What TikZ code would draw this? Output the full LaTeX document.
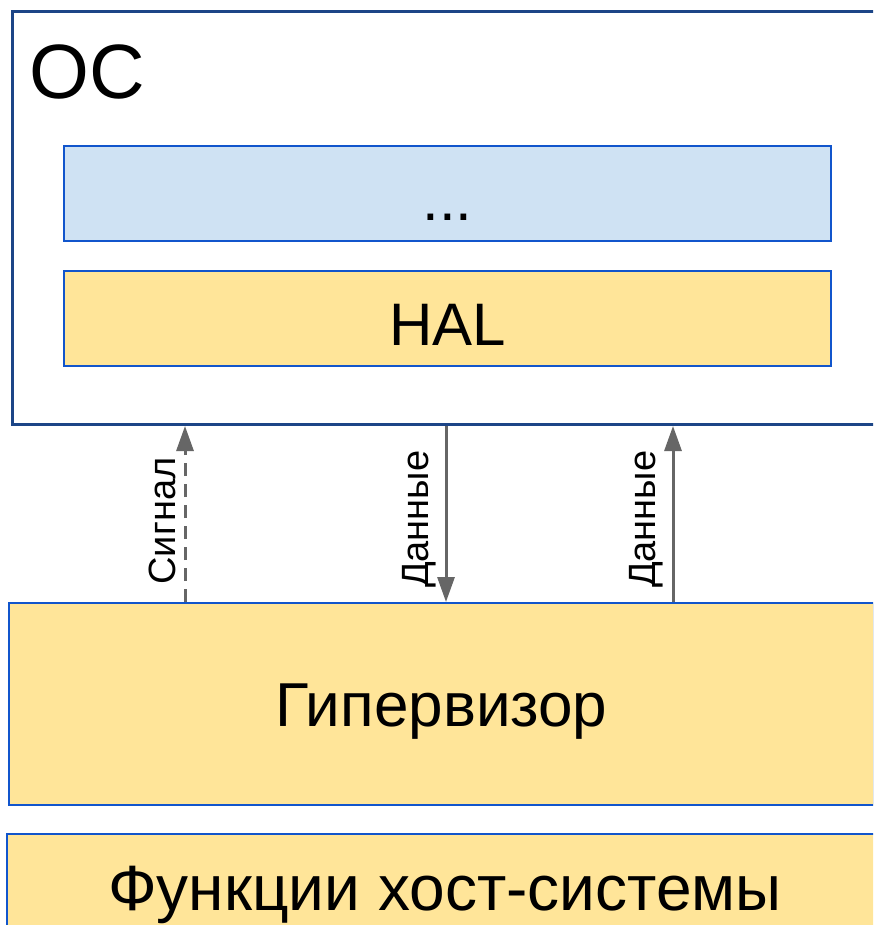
\documentclass[tikz,border=0pt]{standalone}
\usepackage{fontspec}
\setmainfont{Liberation Sans}
\usepackage{tikz}
\usepackage{xcolor}
\usetikzlibrary{arrows.meta,positioning,calc}
\definecolor{osBlue}{RGB}{28,69,135}
\definecolor{layerBlue}{RGB}{17,85,204}
\definecolor{stackBlue}{RGB}{207,226,243}
\definecolor{halYellow}{RGB}{255,229,153}
\definecolor{wireGray}{RGB}{102,102,102}

\begin{document}
\begin{tikzpicture}[x=1pt, y=-1pt,
    layer/.style={draw=layerBlue, line width=2pt, inner sep=0pt},
    wire/.style={draw=wireGray, line width=3pt, -{Triangle[length=25pt,width=17pt]}},
    wirelabel/.style={rotate=90, anchor=south, inner sep=8pt, font=\fontsize{38}{45}\selectfont}]
    \path[use as bounding box, fill=white] (0,0) rectangle (873,925);
    \clip (0,0) rectangle (873,925);
    % guest OS with its layers
    \node[draw=osBlue, line width=3pt, inner sep=0pt, minimum width=880pt, minimum height=413pt, anchor=north west] (os) at (11,10) {};
    \node[anchor=base west, inner sep=0pt, font=\fontsize{77}{90}\selectfont] (osname) at (29,99) {ОС};
    \node[layer, fill=stackBlue, minimum width=767pt, minimum height=95pt, text height=55pt, text depth=0pt, font=\fontsize{60}{72}\selectfont] (stack) at (447.5,193.5) {...};
    \node[layer, fill=halYellow, minimum width=767pt, minimum height=95pt, text height=55pt, text depth=0pt, font=\fontsize{60}{72}\selectfont] (hal) at (447.5,318.25) {HAL};
    % hypervisor and host
    \node[layer, fill=halYellow, minimum width=865pt, minimum height=202pt, text height=44pt, text depth=0pt, font=\fontsize{62}{74}\selectfont] (hyp) at (441.5,704) {Гипервизор};
    \node[layer, fill=halYellow, minimum width=876pt, minimum height=120pt, text height=32pt, text depth=0pt, font=\fontsize{64}{76}\selectfont] (host) at (445,894) {Функции хост-системы};
    % where the wires cross
    \coordinate (sigx) at (185,0);
    \coordinate (downx) at (446,0);
    \coordinate (upx) at (673,0);
    \draw[wire, dash pattern=on 13pt off 8pt] (hyp.north -| sigx) -- (os.south -| sigx) node[wirelabel, pos=0.46] {Сигнал};
    \draw[wire] (os.south -| downx) -- (hyp.north -| downx) node[wirelabel, pos=0.53] {Данные};
    \draw[wire] (hyp.north -| upx) -- (os.south -| upx) node[wirelabel, pos=0.47] {Данные};
\end{tikzpicture}
\end{document}
